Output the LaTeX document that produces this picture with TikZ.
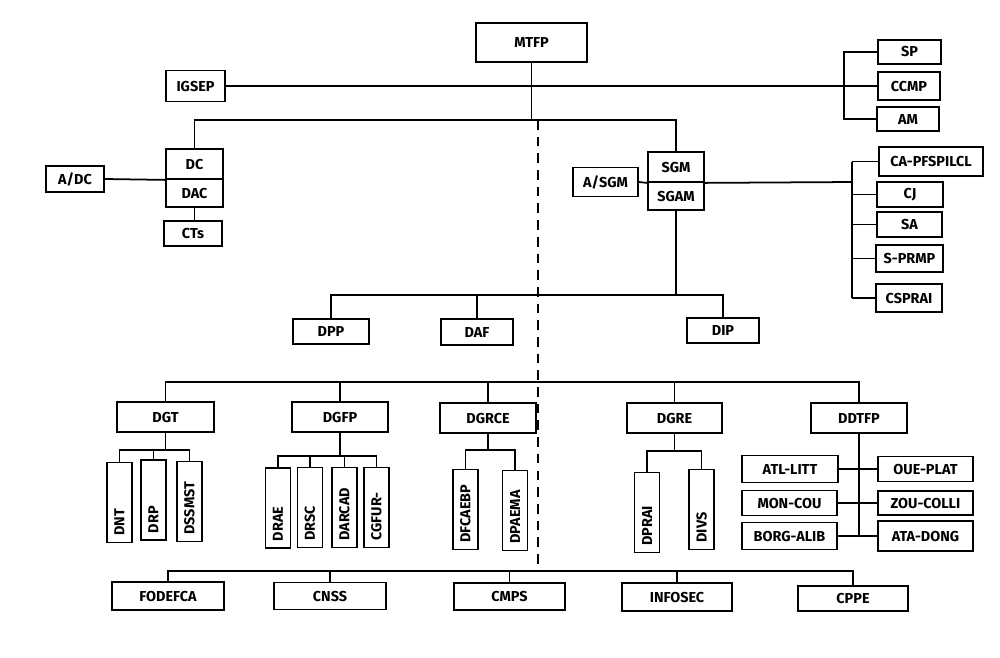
\documentclass[tikz,border=0pt]{standalone}
\usepackage{fontspec}
\setmainfont{Fira Sans}

\begin{document}
\begin{tikzpicture}[x=0.02cm, y=-0.02cm,
    box/.style 2 args={draw, line width=1pt, minimum width=#1*0.02cm, minimum height=#2*0.02cm, inner sep=0pt, font=\fontsize{8.2}{9}\selectfont\bfseries},
    vbox/.style={draw, line width=1pt, rotate=90, minimum height=0.5cm, text width=1.32cm, inner xsep=4pt, inner ysep=0pt, align=left, font=\fontsize{8.2}{9}\selectfont\bfseries},
    link/.style={line width=1pt}]
  \useasboundingbox (0,0) rectangle (1000,657);

  % top level
  \node[box={111}{39}] (mtfp) at (531.5,42.5) {MTFP};
  \node[box={59}{31}] (igsep) at (195.5,86) {IGSEP};
  \node[box={63}{24}] (sp) at (909.5,52) {SP};
  \node[box={62}{28}] (ccmp) at (909,86) {CCMP};
  \node[box={62}{24}] (am) at (908,119) {AM};

  % cabinet
  \node[box={57}{30}] (dc) at (194.5,164) {DC};
  \node[box={57}{28}] (dac) at (194.5,193) {DAC};
  \node[box={58}{25}] (cts) at (193,233.5) {CTs};
  \node[box={58}{26}] (adc) at (75,179) {A/DC};

  % general secretariat
  \node[box={56}{30}] (sgm) at (676,167) {SGM};
  \node[box={56}{28}] (sgam) at (676,196) {SGAM};
  \node[box={65}{29}] (asgm) at (605.5,182) {A/SGM};
  \node[box={104}{29}] (capf) at (931,161.5) {CA-PFSPILCL};
  \node[box={66}{25}] (cj) at (910,194.5) {CJ};
  \node[box={65}{25}] (sa) at (909.5,224.5) {SA};
  \node[box={67}{27}] (sprmp) at (909.5,258.5) {S-PRMP};
  \node[box={66}{28}] (csprai) at (909,298) {CSPRAI};

  \node[box={76}{25}] (dpp) at (331,331.5) {DPP};
  \node[box={72}{26}] (daf) at (477,332) {DAF};
  \node[box={72}{25}] (dip) at (723,330.5) {DIP};

  % general directorates
  \node[box={97}{30}] (dgt) at (165.5,417) {DGT};
  \node[box={96}{30}] (dgfp) at (340,417) {DGFP};
  \node[box={96}{30}] (dgrce) at (488,418) {DGRCE};
  \node[box={95}{30}] (dgre) at (674.5,418) {DGRE};
  \node[box={96}{30}] (ddtfp) at (859,418) {DDTFP};

  \node[vbox] (dnt) at (119.5,502.5) {DNT};
  \node[vbox] (drp) at (153.5,500) {DRP};
  \node[vbox] (dssmst) at (189.5,501.5) {DSSMST};
  \node[vbox] (drae) at (278,508) {DRAE};
  \node[vbox] (drsc) at (310,507.5) {DRSC};
  \node[vbox] (darcad) at (344.5,507.5) {DARCAD};
  \node[vbox] (cgfur) at (376.5,507.5) {CGFUR-};
  \node[vbox] (dfcaebp) at (465.5,509.5) {DFCAEBP};
  \node[vbox] (dpaema) at (515,510.5) {DPAEMA};
  \node[vbox] (dprai) at (647,512.5) {DPRAI};
  \node[vbox] (divs) at (701.5,509.5) {DIVS};

  \node[box={96}{27}] (atl) at (790,469) {ATL-LITT};
  \node[box={95}{25}] (oue) at (925.5,469) {OUE-PLAT};
  \node[box={95}{25}] (mon) at (789.5,503) {MON-COU};
  \node[box={95}{24}] (zou) at (925.5,503) {ZOU-COLLI};
  \node[box={95}{27}] (borg) at (789.5,536) {BORG-ALIB};
  \node[box={95}{30}] (ata) at (925.5,536) {ATA-DONG};

  % bottom row
  \node[box={112}{28}] (fodefca) at (168,596) {FODEFCA};
  \node[box={112}{27}] (cnss) at (330,596) {CNSS};
  \node[box={111}{27}] (cmps) at (509.5,596.5) {CMPS};
  \node[box={110}{28}] (infosec) at (677,597) {INFOSEC};
  \node[box={110}{25}] (cppe) at (853,598.5) {CPPE};

  % bus points
  \coordinate (topbus) at (532,120);
  \coordinate (rbr) at (844,86);
  \coordinate (sbr) at (852,182);
  \coordinate (midbus) at (676,295);
  \coordinate (dgbus) at (500,382);
  \coordinate (tbus) at (165,450);
  \coordinate (fbus) at (340,456);
  \coordinate (cbus) at (488,450);
  \coordinate (rbus) at (674,451);
  \coordinate (dtrunk) at (859,536);
  \coordinate (botbus) at (500,571);
  \coordinate (dtop) at (538,120);
  \coordinate (dbot) at (538,571);

  % connectors
  \draw[link] (mtfp.south) -- (mtfp.south |- topbus);
  \draw[link] (dc.north) |- (sgm.north |- topbus) -- (sgm.north);
  \draw[link] (igsep.east) -- (ccmp.west);
  \draw[link] (sp.west) -| (rbr) |- (am.west);
  \draw[link] (adc.east) -- (dc.south west);
  \draw[link] (dac.south) -- (dac.south |- cts.north);
  \draw[link] (asgm.east) -- (sgm.south west);
  \draw[link] (sgm.south east) -- (sbr);
  \draw[link] (sbr |- capf.west) -- (sbr |- csprai.west);
  \foreach \n in {capf,cj,sa,sprmp,csprai}
    \draw[link] (\n.west) -- (\n.west -| sbr);
  \draw[link] (sgam.south) -- (midbus);
  \draw[link] (dpp.north) |- (dip.north |- midbus) -- (dip.north);
  \draw[link] (daf.north) -- (daf.north |- midbus);
  \draw[link, dash pattern=on 5.5pt off 4pt] (dtop) -- (dbot);

  \draw[link] (dgt.north) |- (ddtfp.north |- dgbus) -- (ddtfp.north);
  \foreach \n in {dgfp,dgrce,dgre}
    \draw[link] (\n.north) -- (\n.north |- dgbus);

  \draw[link] (dgt.south) -- (dgt.south |- tbus);
  \draw[link] (dnt.east) |- (dssmst.east |- tbus) -- (dssmst.east);
  \draw[link] (drp.east) -- (drp.east |- tbus);
  \draw[link] (dgfp.south) -- (dgfp.south |- fbus);
  \draw[link] (drae.east) |- (cgfur.east |- fbus) -- (cgfur.east);
  \foreach \n in {drsc,darcad}
    \draw[link] (\n.east) -- (\n.east |- fbus);
  \draw[link] (dgrce.south) -- (dgrce.south |- cbus);
  \draw[link] (dfcaebp.east) |- (dpaema.east |- cbus) -- (dpaema.east);
  \draw[link] (dgre.south) -- (dgre.south |- rbus);
  \draw[link] (dprai.east) |- (divs.east |- rbus) -- (divs.east);

  \draw[link] (ddtfp.south) -- (dtrunk);
  \draw[link] (atl.east) -- (oue.west);
  \draw[link] (mon.east) -- (zou.west);
  \draw[link] (borg.east) -- (ata.west);

  \draw[link] (fodefca.north) |- (cppe.north |- botbus) -- (cppe.north);
  \foreach \n in {cnss,cmps,infosec}
    \draw[link] (\n.north) -- (\n.north |- botbus);
\end{tikzpicture}
\end{document}
